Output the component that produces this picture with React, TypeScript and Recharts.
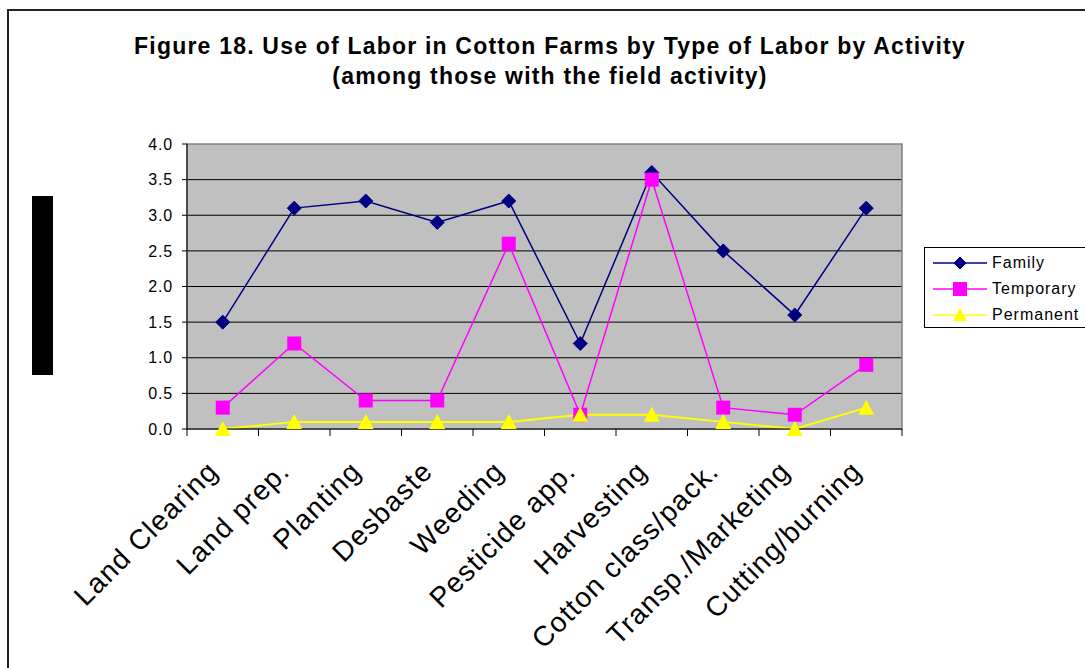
import React from "react";
import {
  CartesianGrid,
  Line,
  LineChart,
  ReferenceArea,
  XAxis,
  YAxis,
} from "recharts";

const categories = [
  "Land Clearing",
  "Land prep.",
  "Planting",
  "Desbaste",
  "Weeding",
  "Pesticide app.",
  "Harvesting",
  "Cotton class/pack.",
  "Transp./Marketing",
  "Cutting/burning",
];
const family = [1.5, 3.1, 3.2, 2.9, 3.2, 1.2, 3.6, 2.5, 1.6, 3.1];
const temporary = [0.3, 1.2, 0.4, 0.4, 2.6, 0.2, 3.5, 0.3, 0.2, 0.9];
const permanent = [0.0, 0.1, 0.1, 0.1, 0.1, 0.2, 0.2, 0.1, 0.0, 0.3];
const yTicks = [0, 0.5, 1, 1.5, 2, 2.5, 3, 3.5, 4];

const FONT = "'Liberation Sans', Arial, sans-serif";
const NAVY = "#000080";
const MAGENTA = "#FF00FF";
const YELLOW = "#FFFF00";

// x = category index + 0.5 so points sit in the middle of each slot,
// tick marks go on the integer slot boundaries
const data = categories.map((c, i) => ({
  x: i + 0.5,
  name: c,
  family: family[i],
  temporary: temporary[i],
  permanent: permanent[i],
}));
const xTicks = Array.from({ length: categories.length * 2 + 1 }, (_, i) => i / 2);

function Diamond({ cx, cy, r = 7 }: any) {
  return (
    <polygon
      points={`${cx},${cy - r} ${cx + r},${cy} ${cx},${cy + r} ${cx - r},${cy}`}
      fill={NAVY}
      stroke={NAVY}
    />
  );
}

function Square({ cx, cy, r = 7 }: any) {
  return <rect x={cx - r} y={cy - r} width={r * 2} height={r * 2} fill={MAGENTA} />;
}

function Triangle({ cx, cy, r = 8 }: any) {
  return (
    <polygon
      points={`${cx},${cy - r} ${cx + r},${cy + r - 1} ${cx - r},${cy + r - 1}`}
      fill={YELLOW}
    />
  );
}

function XTick({ x, y, payload }: any) {
  const v = payload.value;
  if (Number.isInteger(v)) {
    return <line x1={x} x2={x} y1={y} y2={y + 7} stroke="#000" />;
  }
  const label = categories[Math.floor(v)];
  const ax = x - 3;
  const ay = y + 44;
  return (
    <text
      x={ax}
      y={ay}
      transform={`rotate(-45 ${ax} ${ay})`}
      textAnchor="end"
      fontSize={28}
      letterSpacing={1.2}
      fontFamily={FONT}
      fill="#000"
    >
      {label}
    </text>
  );
}

const legendItems = [
  { name: "Family", color: NAVY, Marker: Diamond },
  { name: "Temporary", color: MAGENTA, Marker: Square },
  { name: "Permanent", color: YELLOW, Marker: Triangle },
];

export default function App() {
  return (
    <div
      style={{
        position: "absolute",
        left: 0,
        top: 0,
        width: 1085,
        height: 668,
        background: "#fff",
        overflow: "hidden",
        fontFamily: FONT,
      }}
    >
      {/* outer frame (only top and left edges are in view) */}
      <div
        style={{
          position: "absolute",
          left: 7,
          top: 9,
          width: 1200,
          height: 800,
          borderTop: "2px solid #222",
          borderLeft: "2px solid #222",
        }}
      />
      <div
        style={{
          position: "absolute",
          left: 32,
          top: 196,
          width: 21,
          height: 179,
          background: "#000",
        }}
      />
      <div
        style={{
          position: "absolute",
          left: 0,
          top: 31,
          width: 1100,
          textAlign: "center",
          fontWeight: "bold",
          fontSize: 23,
          letterSpacing: 1.2,
          lineHeight: "30px",
          color: "#000",
        }}
      >
        Figure 18. Use of Labor in Cotton Farms by Type of Labor by Activity
        <br />
        (among those with the field activity)
      </div>

      <div style={{ position: "absolute", left: 0, top: 0 }}>
        <LineChart
          width={1085}
          height={668}
          data={data}
          margin={{ top: 144, right: 183, bottom: 0, left: 0 }}
        >
          <CartesianGrid
            vertical={false}
            horizontalValues={[0.5, 1, 1.5, 2, 2.5, 3, 3.5]}
            stroke="#000"
            fill="#C0C0C0"
            fillOpacity={1}
          />
          <ReferenceArea
            x1={0}
            x2={10}
            y1={0}
            y2={4}
            fill="none"
            fillOpacity={0}
            stroke="#808080"
            strokeWidth={1.5}
          />
          <XAxis
            type="number"
            dataKey="x"
            domain={[0, 10]}
            ticks={xTicks}
            interval={0}
            tick={<XTick />}
            tickLine={false}
            tickSize={0}
            tickMargin={0}
            axisLine={{ stroke: "#000" }}
            height={239}
          />
          <YAxis
            type="number"
            domain={[0, 4]}
            ticks={yTicks}
            interval={0}
            tickFormatter={(v: number) => v.toFixed(1)}
            tick={{ fontSize: 16, fill: "#000", fontFamily: FONT, letterSpacing: 0.8 }}
            tickSize={5}
            tickMargin={9}
            tickLine={{ stroke: "#000" }}
            axisLine={{ stroke: "#000" }}
            width={187}
          />
          <Line
            dataKey="family"
            stroke={NAVY}
            strokeWidth={1.5}
            isAnimationActive={false}
            dot={(p: any) => <Diamond key={`f${p.index}`} cx={p.cx} cy={p.cy} />}
            activeDot={false}
          />
          <Line
            dataKey="temporary"
            stroke={MAGENTA}
            strokeWidth={1.5}
            isAnimationActive={false}
            dot={(p: any) => <Square key={`t${p.index}`} cx={p.cx} cy={p.cy} />}
            activeDot={false}
          />
          <Line
            dataKey="permanent"
            stroke={YELLOW}
            strokeWidth={2}
            isAnimationActive={false}
            dot={(p: any) => <Triangle key={`p${p.index}`} cx={p.cx} cy={p.cy} />}
            activeDot={false}
          />
        </LineChart>
      </div>

      <div
        style={{
          position: "absolute",
          left: 924,
          top: 247,
          width: 200,
          height: 79,
          border: "1px solid #000",
          background: "#fff",
        }}
      >
        {legendItems.map(({ name, color, Marker }, i) => (
          <div
            key={name}
            style={{
              position: "absolute",
              left: 8,
              top: 4 + i * 26,
              height: 22,
              display: "flex",
              alignItems: "center",
            }}
          >
            <svg width={56} height={22}>
              <line x1={0} x2={54} y1={11} y2={11} stroke={color} strokeWidth={1.5} />
              <Marker cx={27} cy={11} r={color === NAVY ? 6 : 7} />
            </svg>
            <span style={{ fontSize: 16, letterSpacing: 1, marginLeft: 3, color: "#000" }}>
              {name}
            </span>
          </div>
        ))}
      </div>
    </div>
  );
}
